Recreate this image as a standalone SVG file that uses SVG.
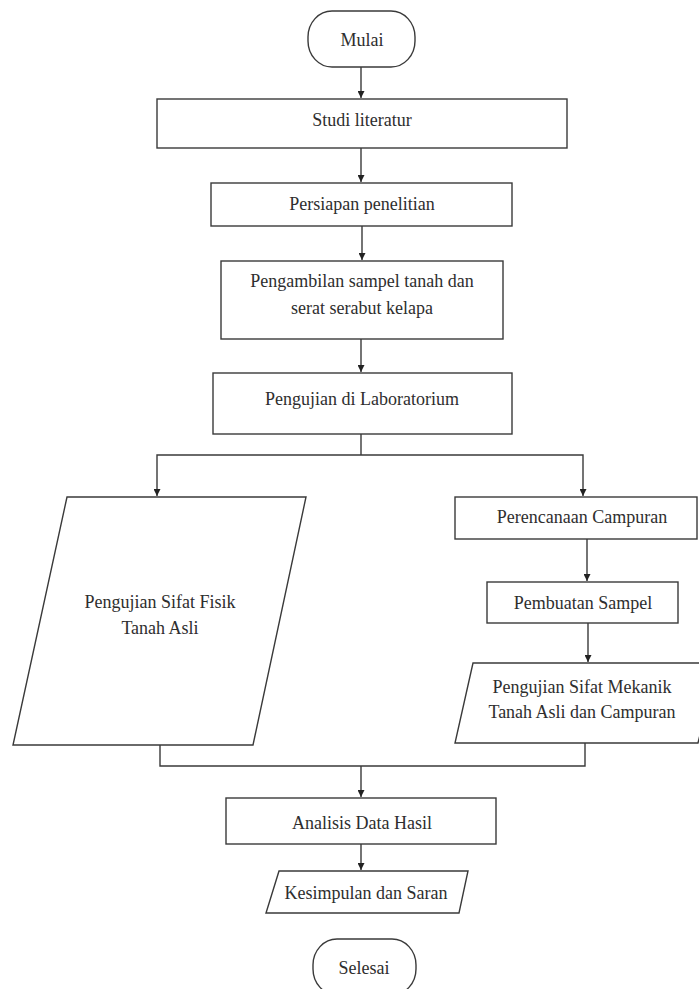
<svg xmlns="http://www.w3.org/2000/svg" width="699" height="989" viewBox="0 0 699 989">
<defs>
<style>
.n{fill:#fff;stroke:#3a3a3a;stroke-width:1.4}
.t{font-family:"Liberation Serif","Times New Roman",serif;font-size:18px;fill:#2e2e2e;text-anchor:middle}
.c{fill:none;stroke:#3a3a3a;stroke-width:1.4}
</style>
<marker id="ah" viewBox="0 0 10 10" refX="10" refY="5" markerWidth="7" markerHeight="7" markerUnits="userSpaceOnUse" orient="auto"><path d="M0,0 L10,5 L0,10 z" fill="#222"/></marker>
</defs>
<rect width="699" height="989" fill="#fff"/>
<g id="connectors">
<path class="c" d="M361,67 V98" marker-end="url(#ah)"/>
<path class="c" d="M361,148 V182" marker-end="url(#ah)"/>
<path class="c" d="M362,226 V260" marker-end="url(#ah)"/>
<path class="c" d="M361,339 V372" marker-end="url(#ah)"/>
<path class="c" d="M361,434 V455"/>
<path class="c" d="M361,455 H157 V496" marker-end="url(#ah)"/>
<path class="c" d="M361,455 H583 V496" marker-end="url(#ah)"/>
<path class="c" d="M587,539 V581" marker-end="url(#ah)"/>
<path class="c" d="M588,623 V662" marker-end="url(#ah)"/>
<path class="c" d="M160,745 V766 H585 V743"/>
<path class="c" d="M361,766 V797" marker-end="url(#ah)"/>
<path class="c" d="M361,844 V870" marker-end="url(#ah)"/>
</g>
<g id="mulai"><rect class="n" x="308" y="11" width="107" height="56" rx="24" ry="26"/><text class="t" x="362" y="46">Mulai</text></g>
<g id="studi"><rect class="n" x="157" y="99" width="410" height="49"/><text class="t" x="362" y="126">Studi literatur</text></g>
<g id="persiapan"><rect class="n" x="211" y="183" width="301" height="43"/><text class="t" x="362" y="210">Persiapan penelitian</text></g>
<g id="pengambilan"><rect class="n" x="221" y="261" width="282" height="78"/><text class="t" x="362" y="287">Pengambilan sampel tanah dan</text><text class="t" x="362" y="314">serat serabut kelapa</text></g>
<g id="lab"><rect class="n" x="213" y="373" width="299" height="61"/><text class="t" x="362" y="405">Pengujian di Laboratorium</text></g>
<g id="fisik"><polygon class="n" points="67,497 306,497 253,745 13,745"/><text class="t" x="160" y="608">Pengujian Sifat Fisik</text><text class="t" x="160" y="634">Tanah Asli</text></g>
<g id="perencanaan"><rect class="n" x="455" y="497" width="242" height="42"/><text class="t" x="582" y="523">Perencanaan Campuran</text></g>
<g id="pembuatan"><rect class="n" x="487" y="582" width="191" height="41"/><text class="t" x="583" y="609">Pembuatan Sampel</text></g>
<g id="mekanik"><polygon class="n" points="473,663 718,663 698,743 455,743"/><text class="t" x="582" y="693">Pengujian Sifat Mekanik</text><text class="t" x="582" y="718">Tanah Asli dan Campuran</text></g>
<g id="analisis"><rect class="n" x="226" y="798" width="270" height="46"/><text class="t" x="362" y="829">Analisis Data Hasil</text></g>
<g id="kesimpulan"><polygon class="n" points="279,871 468,871 459,913 266,913"/><text class="t" x="366" y="899">Kesimpulan dan Saran</text></g>
<g id="selesai"><rect class="n" x="313" y="939" width="103" height="56" rx="24" ry="26"/><text class="t" x="364" y="974">Selesai</text></g>
</svg>
